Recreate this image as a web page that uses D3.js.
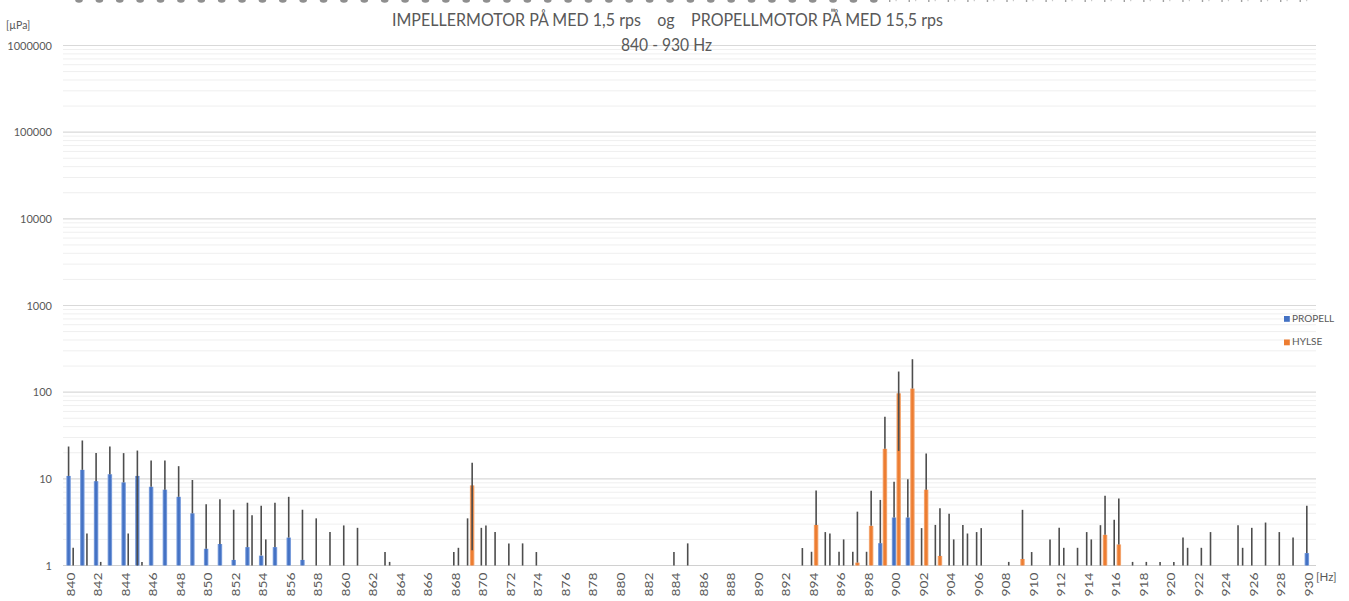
<!DOCTYPE html>
<html><head><meta charset="utf-8">
<script src="https://cdn.jsdelivr.net/npm/d3@7"></script>
<style>body{margin:0;background:#fff;} svg{display:block;font-family:Lato,"Open Sans",sans-serif;}</style>
</head><body><svg id="c" width="1349" height="601"></svg>
<script>
// ---------- DATA ----------
const categories = [
 840,841,842,843,844,845,846,847,848,849,
 850,851,852,853,854,855,856,857,858,859,
 860,861,862,863,864,865,866,867,868,869,
 870,871,872,873,874,875,876,877,878,879,
 880,881,882,883,884,885,886,887,888,889,
 890,891,892,893,894,895,896,897,898,899,
 900,901,902,903,904,905,906,907,908,909,
 910,911,912,913,914,915,916,917,918,919,
 920,921,922,923,924,925,926,927,928,929,
 930];
const tickLabels = [840,842,844,846,848,850,852,854,856,858,860,862,864,866,868,870,872,874,876,878,880,882,884,886,888,890,892,894,896,898,900,902,904,906,908,910,912,914,916,918,920,922,924,926,928,930];
const yTicks = [1,10,100,1000,10000,100000,1000000];
const seriesNames = ["PROPELL","HYLSE"];

const propellValues = [
 10.8,12.7,9.4,11.3,9.1,10.8,8.1,7.5,6.2,4.0,
 1.56,1.77,1.16,1.63,1.3,1.63,2.1,1.16,0,0,
 0,0,0,0,0,0,0,0,0,0,
 0,0,0,0,0,0,0,0,0,0,
 0,0,0,0,0,0,0,0,0,0,
 0,0,0,0,0,0,0,0,0,1.81,
 3.58,3.58,0,0,0,0,0,0,0,0,
 0,0,0,0,0,0,0,0,0,0,
 0,0,0,0,0,0,0,0,0,0,
 1.39];
const propellErrors = [
 12.8,15.0,10.4,12.3,10.7,10.4,8.2,8.8,7.8,5.7,
 3.54,4.03,3.24,3.67,3.6,3.67,4.1,3.24,3.5,2.43,
 2.9,2.72,0,1.43,0,0,0,0,1.43,3.5,
 2.72,2.43,1.8,1.8,1.43,0,0,0,0,0,
 0,0,0,0,1.43,1.8,0,0,0,0,
 0,0,0,0,1.44,2.43,1.44,1.44,1.44,3.9,
 5.7,6.3,2.7,2.94,3.95,2.94,2.43,0,0,0,
 1.43,0,2.72,0,2.43,2.92,3.37,0,0,0,
 0,2.1,0,2.43,0,2.92,2.72,3.13,2.43,2.1,
 3.5];
const hylseValues = [
 0,0,0,0,0,0,0,0,0,0,
 0,0,0,0,0,0,0,0,0,0,
 0,0,0,0,0,0,0,0,0,8.4,
 0,0,0,0,0,0,0,0,0,0,
 0,0,0,0,0,0,0,0,0,0,
 0,0,0,0,2.94,0,0,1.08,2.87,22.2,
 97,110,7.5,1.29,0,0,0,0,0,1.19,
 0,0,0,0,0,2.26,1.75,0,0,0,
 0,0,0,0,0,0,0,0,0,0,
 0];
const hylseErrors = [
 1.6,2.34,1.1,0,2.34,1.1,0,0,0,0,
 0,0,0,3.8,2.0,0,0,0,0,0,
 0,0,0,1.1,0,0,0,0,1.6,6.9,
 2.9,0,0,0,0,0,0,0,0,0,
 0,0,0,0,0,0,0,0,0,0,
 0,0,0,1.59,4.4,2.34,2.0,3.1,4.4,29.7,
 76,130,12.1,3.3,2.0,2.34,2.7,0,1.1,3.2,
 0,2.0,1.6,1.6,2.0,4.1,4.2,1.1,1.1,1.1,
 1.1,1.6,1.6,0,0,1.6,0,0,0,0,
 0];

// ---------- CHART ----------
const svg = d3.select("#c");
const TXT = "#595959";
const plot = {left:64, right:1316, top:45.5, bottom:565.5};

const x = d3.scaleBand().domain(categories).range([plot.left, plot.right]).paddingInner(0).paddingOuter(0);
const y = d3.scaleLog().domain([1, 1000000]).range([plot.bottom, plot.top]);
const barW = 4.6;

// gradients
const defs = svg.append("defs");
function grad(id, edge, mid){
  const g = defs.append("linearGradient").attr("id", id).attr("x1","0").attr("x2","1").attr("y1","0").attr("y2","0");
  g.append("stop").attr("offset","0%").attr("stop-color", edge);
  g.append("stop").attr("offset","35%").attr("stop-color", mid);
  g.append("stop").attr("offset","65%").attr("stop-color", mid);
  g.append("stop").attr("offset","100%").attr("stop-color", edge);
}
grad("gBlue", "#93B1E6", "#4472C4");
grad("gOrange", "#F6B98E", "#ED7D31");

// top decorative partial marks (cropped artifacts)
const topDots = d3.range(0, 40).map(i => 79 + i*20.38).filter(v => v < 880);
svg.append("g").selectAll("ellipse").data(topDots).join("ellipse")
  .attr("cx", d => d).attr("cy", 0).attr("rx", 3.8).attr("ry", 2.7).attr("fill", "#8f8f8f");
const topTicks = d3.range(0, 22).map(i => 889 + i*19.55).filter(v => v < 1312);
svg.append("g").selectAll("rect").data(topTicks).join("rect")
  .attr("x", d => d).attr("y", 0).attr("width", 1.4).attr("height", 2).attr("fill", "#a0a0a0");
svg.append("g").selectAll("rect").data(topTicks).join("rect")
  .attr("x", d => d + 6.5).attr("y", 0).attr("width", 1.2).attr("height", 1.2).attr("fill", "#c8c8c8");
svg.append("rect").attr("x", 831).attr("y", 8.7).attr("width", 4).attr("height", 3).attr("fill", "#9a9a9a");

// gridlines
const allTicks = y.ticks();
const gridG = svg.append("g");
gridG.selectAll("line").data(allTicks.filter(t => Math.abs(Math.log10(t) - Math.round(Math.log10(t))) > 1e-9 && t < 1000000))
  .join("line")
  .attr("x1", plot.left - 1).attr("x2", plot.right)
  .attr("y1", d => y(d)).attr("y2", d => y(d))
  .attr("stroke", "#EFEFEF").attr("stroke-width", 1);
gridG.append("g").selectAll("line").data(yTicks.filter(t => t > 1))
  .join("line")
  .attr("x1", plot.left - 1).attr("x2", plot.right)
  .attr("y1", d => y(d)).attr("y2", d => y(d))
  .attr("stroke", "#D9D9D9").attr("stroke-width", 1.2);

// y axis labels
const yAxis = svg.append("g").attr("transform", `translate(${plot.left},0)`)
  .call(d3.axisLeft(y).tickValues(yTicks).tickFormat(d3.format("d")).tickSize(0).tickPadding(12));
yAxis.select(".domain").remove();
yAxis.selectAll("text").attr("fill", TXT).style("font-size", "11px").style("font-family", "Lato");

// x axis
const xAxis = svg.append("g").attr("transform", `translate(0,${plot.bottom})`)
  .call(d3.axisBottom(x).tickValues(tickLabels).tickSize(0));
xAxis.select(".domain").attr("stroke", "#D0D0D0").attr("stroke-width", 1.2)
  .attr("d", `M${plot.left - 1},0H${plot.right}`);
xAxis.selectAll("text")
  .attr("transform", "rotate(-90)")
  .attr("x", -7).attr("y", 0).attr("dy", "0.36em")
  .attr("text-anchor", "end")
  .attr("textLength", 24).attr("lengthAdjust", "spacingAndGlyphs")
  .attr("fill", TXT).style("font-size", "10.5px").style("font-family", "Lato");

// bars
const series = [
  {name: seriesNames[0], values: propellValues, errors: propellErrors, off: -barW, fill: "url(#gBlue)"},
  {name: seriesNames[1], values: hylseValues, errors: hylseErrors, off: 0, fill: "url(#gOrange)"}
];
const barsG = svg.append("g");
series.forEach(s => {
  const data = categories.map((c, i) => ({c, v: s.values[i], e: s.errors[i]}));
  barsG.append("g").selectAll("rect").data(data.filter(d => d.v > 1)).join("rect")
    .attr("x", d => x(d.c) + x.bandwidth()/2 + s.off)
    .attr("width", barW)
    .attr("y", d => y(d.v))
    .attr("height", d => y(1) - y(d.v))
    .attr("fill", s.fill);
  s.data = data;
});
// error bars (Excel style, minus part omitted when non-positive on log axis)
const errG = svg.append("g");
series.forEach(s => {
  const ed = s.data.filter(d => d.v + d.e > 1 && d.e > 0);
  errG.append("g").selectAll("line").data(ed).join("line")
    .attr("x1", d => x(d.c) + x.bandwidth()/2 + s.off + barW/2)
    .attr("x2", d => x(d.c) + x.bandwidth()/2 + s.off + barW/2)
    .attr("y1", d => { const lo = d.v - d.e > 0 ? d.v - d.e : d.v; return y(Math.max(lo, 1)); })
    .attr("y2", d => y(d.v + d.e))
    .attr("stroke", "#4d4d4d").attr("stroke-width", 1.6);
});

// titles
svg.append("text").attr("x", 667.5).attr("y", 26).attr("text-anchor", "middle")
  .attr("fill", TXT).style("font-size", "18px").style("white-space", "pre")
  .attr("textLength", 551).attr("lengthAdjust", "spacingAndGlyphs")
  .text("IMPELLERMOTOR PÅ MED 1,5 rps    og    PROPELLMOTOR PÅ MED 15,5 rps");
svg.append("text").attr("x", 666.5).attr("y", 51).attr("text-anchor", "middle")
  .attr("fill", TXT).style("font-size", "18px").style("white-space", "pre")
  .attr("textLength", 91).attr("lengthAdjust", "spacingAndGlyphs")
  .text("840 - 930 Hz");

// unit labels
svg.append("text").attr("x", 6).attr("y", 29).attr("fill", TXT).style("font-size", "10.5px").text("[µPa]");
svg.append("text").attr("x", 1316).attr("y", 581).attr("fill", TXT).style("font-size", "11.5px").text("[Hz]");

// legend
const legend = svg.append("g");
const legItems = [{name: seriesNames[0], color: "#4472C4", yy: 316}, {name: seriesNames[1], color: "#ED7D31", yy: 339.5}];
legend.selectAll("rect").data(legItems).join("rect")
  .attr("x", 1284).attr("y", d => d.yy).attr("width", 5.8).attr("height", 5.8).attr("fill", d => d.color);
legend.selectAll("text").data(legItems).join("text")
  .attr("x", 1292).attr("y", d => d.yy + 5.5).attr("fill", TXT).style("font-size", "10px")
  .text(d => d.name);
</script>
</body></html>
